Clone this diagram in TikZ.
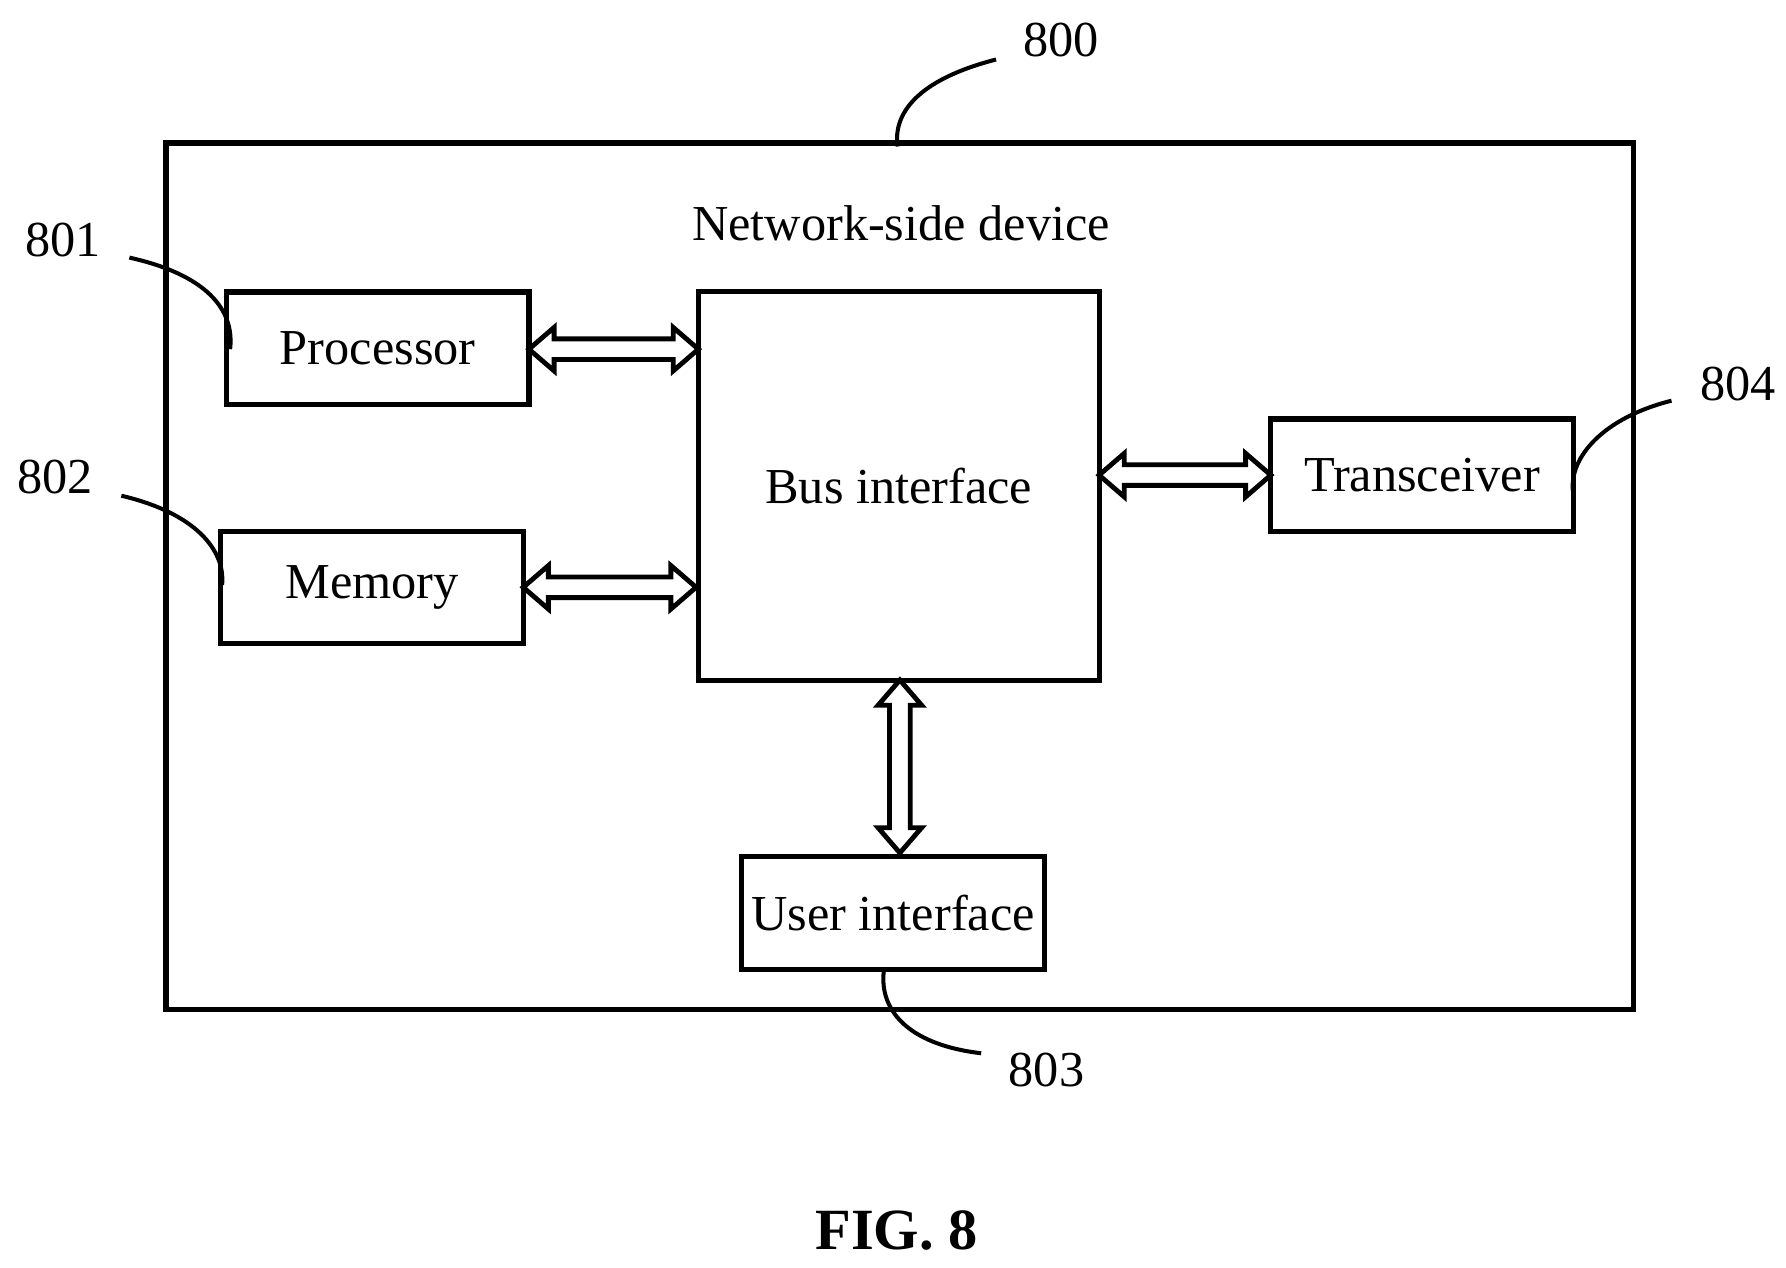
\documentclass[tikz,border=0pt]{standalone}
\usepackage{fontspec}
\setmainfont{Liberation Serif}
\newcommand\hdarrow[3]{% x1 x2 y
  \draw[line width=1.2pt,fill=white] (#1,#3) -- (#1+22,#3-19) -- (#1+22,#3-9) -- (#2-22,#3-9) -- (#2-22,#3-19) -- (#2,#3)
   -- (#2-22,#3+19) -- (#2-22,#3+9) -- (#1+22,#3+9) -- (#1+22,#3+19) -- cycle;}
\newcommand\vdarrow[3]{% y1 y2 x
  \draw[line width=1.2pt,fill=white] (#3,#1) -- (#3-19,#1+22) -- (#3-9,#1+22) -- (#3-9,#2-22) -- (#3-19,#2-22) -- (#3,#2)
   -- (#3+19,#2-22) -- (#3+9,#2-22) -- (#3+9,#1+22) -- (#3+19,#1+22) -- cycle;}
\begin{document}
\begin{tikzpicture}[x=0.01cm,y=-0.01cm,
  box/.style={draw,line width=1.3pt,inner sep=0pt,font=\fontsize{12.5}{15}\selectfont},
  num/.style={font=\fontsize{12.5}{15}\selectfont},
  lead/.style={line width=1pt}]
\useasboundingbox (0,0) rectangle (1560,1107);
\draw[line width=1.3pt] (145,125) rectangle (1427,882);
\node[font=\fontsize{12.5}{15}\selectfont] (title) at (787,195) {Network-side device};
\node[box,minimum width=2.64cm,minimum height=0.98cm] (proc) at (330,304) {Processor};
\node[box,minimum width=2.64cm,minimum height=0.98cm] (mem) at (325,513) {Memory};
\node[box,minimum width=3.50cm,minimum height=3.39cm] (bus) at (785,424.5) {Bus interface};
\node[box,minimum width=2.64cm,minimum height=0.98cm] (trx) at (1242,415) {Transceiver};
\node[box,minimum width=2.64cm,minimum height=0.99cm] (ui) at (780,797.5) {User interface};
\hdarrow{462}{610}{305}
\hdarrow{457}{608}{513}
\hdarrow{960}{1110}{415}
\vdarrow{594}{745}{786}
\node[num] (n800) at (927,35) {800};
\node[num] (n801) at (55,210) {801};
\node[num] (n802) at (48,417) {802};
\node[num] (n804) at (1518,335) {804};
\node[num] (n803) at (914,935) {803};
\draw[lead] (870,52) .. controls (800,70) and (780,100) .. (784,128);
\draw[lead] (113,225) .. controls (180,240) and (205,270) .. (201,305);
\draw[lead] (106,433) .. controls (170,448) and (197,480) .. (194,511);
\draw[lead] (1460,350) .. controls (1400,365) and (1370,400) .. (1374,430);
\draw[lead] (857,920) .. controls (790,912) and (768,880) .. (772,848);
\node[font=\bfseries\fontsize{14.5}{17}\selectfont] (fig) at (783,1075) {FIG. 8};
\end{tikzpicture}
\end{document}
